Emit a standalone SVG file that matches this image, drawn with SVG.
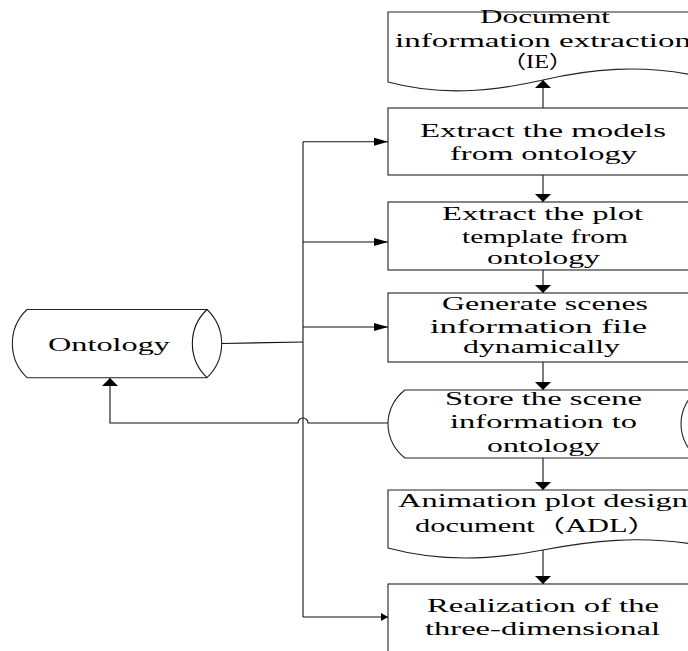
<svg xmlns="http://www.w3.org/2000/svg" width="688" height="651" viewBox="0 0 688 651">
<style>
.s{fill:#fff;stroke:#222;stroke-width:1.1}
.c{fill:none;stroke:#111;stroke-width:1.1}
text{font-family:"Liberation Serif","Times New Roman","Noto Sans CJK SC",serif;font-size:18px;fill:#000}
</style>
<defs>
<marker id="ah" markerWidth="14" markerHeight="8" refX="14" refY="4" orient="auto" markerUnits="userSpaceOnUse" overflow="visible"><path d="M0,0 L14,4 L0,8 Z" fill="#000"/></marker>
<marker id="ahs" markerWidth="7" markerHeight="8" refX="7" refY="4" orient="auto" markerUnits="userSpaceOnUse" overflow="visible"><path d="M0,0 L7,4 L0,8 Z" fill="#000"/></marker>
<marker id="av" markerWidth="8" markerHeight="16" refX="8" refY="8" orient="auto" markerUnits="userSpaceOnUse" overflow="visible"><path d="M0,0 L8,8 L0,16 Z" fill="#000"/></marker>
</defs>
<rect width="688" height="651" fill="#fff"/>
<g id="connectors">
<path class="c" d="M303,141.7 V617"/>
<path class="c" d="M303,141.7 H388" marker-end="url(#ah)"/>
<path class="c" d="M303,242 H388" marker-end="url(#ah)"/>
<path class="c" d="M303,327 H388" marker-end="url(#ah)"/>
<path class="c" d="M303,617 H388" marker-end="url(#ahs)"/>
<path class="c" d="M221,343.5 L303,342"/>
<path class="c" d="M543,108 V80" marker-end="url(#av)"/>
<path class="c" d="M543,175 V202" marker-end="url(#av)"/>
<path class="c" d="M543,270 V293" marker-end="url(#av)"/>
<path class="c" d="M543,362 V390" marker-end="url(#av)"/>
<path class="c" d="M543,458 V490" marker-end="url(#av)"/>
<path class="c" d="M543,550 V584" marker-end="url(#av)"/>
<path class="c" d="M388,423 H308 A5,5 0 0 0 298,423 H110 V378" marker-end="url(#av)"/>
</g>
<g id="ie">
<path class="s" d="M388,12 H698 V76 C640,64 590,69 543,80 C490,92 440,96 388,82 Z"/>
<text x="480" y="23" textLength="130" lengthAdjust="spacingAndGlyphs">Document</text>
<text x="395" y="47" textLength="296" lengthAdjust="spacingAndGlyphs">information extraction</text>
<text x="502" y="68" textLength="71" lengthAdjust="spacingAndGlyphs">（IE）</text>
</g>
<g id="models">
<rect class="s" x="388" y="108" width="310" height="67"/>
<text x="420" y="136.7" textLength="246" lengthAdjust="spacingAndGlyphs">Extract the models</text>
<text x="450" y="160" textLength="187" lengthAdjust="spacingAndGlyphs">from ontology</text>
</g>
<g id="plot">
<rect class="s" x="388" y="202" width="310" height="68"/>
<text x="442" y="220" textLength="201" lengthAdjust="spacingAndGlyphs">Extract the plot</text>
<text x="462" y="243" textLength="166" lengthAdjust="spacingAndGlyphs">template from</text>
<text x="487" y="264" textLength="113" lengthAdjust="spacingAndGlyphs">ontology</text>
</g>
<g id="generate">
<rect class="s" x="388" y="293" width="310" height="69"/>
<text x="442" y="310" textLength="206" lengthAdjust="spacingAndGlyphs">Generate scenes</text>
<text x="430" y="333" textLength="217" lengthAdjust="spacingAndGlyphs">information file</text>
<text x="463" y="353.3" textLength="157" lengthAdjust="spacingAndGlyphs">dynamically</text>
</g>
<g id="store">
<path class="s" d="M405,390 H698 A42.5,42.5 0 0 0 698,458 H405 A42.5,42.5 0 0 1 405,390 Z"/>
<text x="445" y="405" textLength="197" lengthAdjust="spacingAndGlyphs">Store the scene</text>
<text x="450" y="428.3" textLength="187" lengthAdjust="spacingAndGlyphs">information to</text>
<text x="487" y="451.7" textLength="113" lengthAdjust="spacingAndGlyphs">ontology</text>
</g>
<g id="adl">
<path class="s" d="M388,490 H698 V545 C640,535 590,541 543,550 C490,560 440,562 388,548 Z"/>
<text x="398" y="506.7" textLength="290" lengthAdjust="spacingAndGlyphs">Animation plot design</text>
<text x="415" y="531.7" textLength="243" lengthAdjust="spacingAndGlyphs">document（ADL）</text>
</g>
<g id="realization">
<rect class="s" x="388" y="584" width="310" height="90"/>
<text x="427" y="611.7" textLength="232" lengthAdjust="spacingAndGlyphs">Realization of the</text>
<text x="425" y="635" textLength="235" lengthAdjust="spacingAndGlyphs">three-dimensional</text>
</g>
<g id="ontology">
<path class="s" d="M27,309.5 H207 A47,47 0 0 1 207,377.7 H27 A47,47 0 0 1 27,309.5 Z"/>
<path class="c" d="M207,309.5 A47,47 0 0 0 207,377.7"/>
<text x="48" y="350.7" style="font-size:19px" textLength="122" lengthAdjust="spacingAndGlyphs">Ontology</text>
</g>
</svg>
